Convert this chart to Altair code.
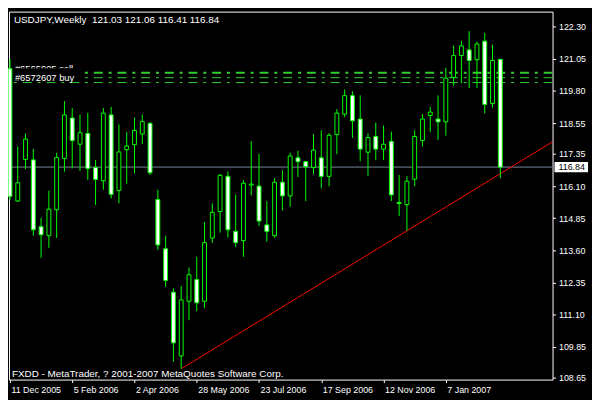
import altair as alt
import pandas as pd

# ---- data (weekly USDJPY candles) ----
opens = [120.67, 115.52, 117.14, 117.12, 114.52, 114.17, 115.18, 117.18, 118.75, 117.73,
         118.15, 116.82, 116.31, 118.87, 115.93, 117.52, 117.71, 118.13, 118.54, 115.58,
         113.66, 111.97, 109.49, 111.62, 112.46, 111.62, 114.08, 115.11, 116.48, 114.34,
         113.98, 116.14, 116.10, 114.59, 114.17, 116.25, 115.72, 117.20, 117.05, 116.82,
         117.20, 116.48, 118.11, 118.90, 119.62, 118.71, 117.42, 118.03, 117.54, 117.84,
         115.46, 115.38, 116.37, 117.88, 118.85, 118.71, 118.60, 120.33, 121.18, 121.40,
         121.02, 121.74, 119.32, 121.03]
highs = [121.05, 117.64, 118.15, 117.55, 114.86, 115.92, 117.40, 119.41, 119.14, 118.88,
         118.95, 117.12, 119.14, 119.18, 118.50, 118.20, 118.77, 118.88, 118.59, 115.96,
         114.17, 112.12, 112.21, 112.93, 113.35, 114.71, 115.43, 116.57, 116.67, 115.77,
         116.34, 117.85, 117.36, 115.51, 116.42, 116.72, 117.40, 117.48, 117.08, 118.12,
         118.27, 118.16, 119.10, 119.86, 119.79, 119.63, 118.16, 118.57, 118.46, 118.22,
         116.53, 116.49, 118.27, 118.90, 119.18, 119.63, 120.70, 121.57, 121.76, 122.13,
         121.72, 122.06, 121.60, 121.06]
lows = [115.56, 115.49, 116.76, 114.17, 113.31, 113.70, 114.08, 116.66, 116.79, 116.69,
        116.34, 115.37, 115.96, 115.62, 115.43, 116.19, 116.60, 117.74, 116.53, 113.62,
        112.18, 109.27, 108.99, 110.88, 111.24, 111.35, 113.89, 114.29, 114.10, 113.73,
        113.35, 115.74, 114.55, 113.94, 114.09, 115.15, 115.30, 116.46, 115.52, 116.56,
        116.01, 116.09, 117.34, 118.78, 117.98, 117.07, 116.50, 117.11, 117.11, 115.52,
        114.93, 114.36, 116.09, 117.64, 118.20, 117.90, 118.06, 120.00, 120.10, 119.91,
        119.91, 118.93, 119.15, 116.41]
closes = [115.70, 116.23, 117.93, 114.40, 114.21, 115.20, 117.21, 118.87, 117.87, 118.18,
          116.79, 116.36, 118.94, 115.78, 117.43, 117.66, 118.27, 118.61, 116.62, 113.81,
          112.43, 110.00, 111.67, 112.65, 111.56, 113.90, 115.08, 116.52, 114.40, 113.90,
          116.21, 116.18, 114.74, 114.34, 116.25, 115.72, 117.27, 117.05, 116.85, 117.50,
          116.48, 118.08, 118.94, 119.62, 118.64, 117.54, 117.99, 117.54, 117.73, 115.76,
          115.42, 116.29, 118.03, 118.71, 118.98, 118.60, 120.30, 121.18, 121.56, 120.99,
          121.63, 119.28, 120.99, 116.84]

x_labels = ["11 Dec 2005", "5 Feb 2006", "2 Apr 2006", "28 May 2006",
            "23 Jul 2006", "17 Sep 2006", "12 Nov 2006", "7 Jan 2007"]
label_step = 8
y_ticks = [122.30, 121.05, 119.80, 118.55, 117.35, 116.10, 114.85,
           113.60, 112.35, 111.10, 109.85, 108.65]

current_price = [116.84]
order_prices = [120.51, 120.32, 120.13]
order_names = ["#6565905 sell", "#6572607 buy"]

trend_bars = [22, 70]
trend_prices = [108.99, 117.88]

symbol = "USDJPY,Weekly"
footer = "FXDD - MetaTrader, ? 2001-2007 MetaQuotes Software Corp."

# ---- styling ----
W, H = 551, 373
FONT = "Liberation Sans, Arial, sans-serif"
FS_AX = 9
FS_TXT = 9.5
GREEN = "#00ff00"
DASHGREEN = "#32cd32"

df = pd.DataFrame({"bar": list(range(len(opens))), "open": opens, "high": highs,
                   "low": lows, "close": closes})

xs = alt.Scale(domain=[-0.125, 69.71], nice=False, zero=False)
ys = alt.Scale(domain=[108.57, 122.89], nice=False, zero=False)

label_expr = "[" + ",".join("'%s'" % s for s in x_labels) + "][round(datum.value/%d)]" % label_step
x_axis = alt.Axis(values=[label_step * k for k in range(len(x_labels))], labelExpr=label_expr,
                  orient="bottom", labelAlign="left", labelBaseline="top", grid=False, domain=False,
                  tickColor="white", tickSize=3, labelColor="white", labelFont=FONT,
                  labelFontSize=FS_AX, labelPadding=3, labelOffset=1, title=None,
                  labelOverlap=False, labelBound=False, labelFlush=False)
y_axis = alt.Axis(values=y_ticks, format=".2f", orient="right", grid=False, domain=False,
                  tickColor="white", tickSize=3, labelColor="white", labelFont=FONT,
                  labelFontSize=FS_AX, labelPadding=3, title=None, labelOverlap=False,
                  labelBound=False, labelFlush=False)


def X(f):
    return alt.X(f, type="quantitative", scale=xs, axis=x_axis)


def Y(f):
    return alt.Y(f, type="quantitative", scale=ys, axis=y_axis)


base = alt.Chart(df)

price_df = pd.DataFrame({"price": current_price})
price_line = alt.Chart(price_df).mark_rule(color="#778899", strokeWidth=1).encode(y=Y("price"))

lvl = pd.DataFrame({"price": order_prices, "k": list(range(len(order_prices)))})
dash_thick = alt.Chart(lvl).transform_filter("datum.k == 0").mark_rule(
    color=DASHGREEN, strokeWidth=2, strokeDash=[9, 6, 3, 6]).encode(y=Y("price"))
dash_thin = alt.Chart(lvl).transform_filter("datum.k > 0").mark_rule(
    color=DASHGREEN, strokeWidth=1, strokeDash=[9, 6, 3, 6]).encode(y=Y("price"))

trend_df = pd.DataFrame({"bar": trend_bars, "price": trend_prices})
trend = alt.Chart(trend_df).mark_line(color="#ff0000", strokeWidth=1, clip=True).encode(
    x=X("bar"), y=Y("price"))

wicks = base.mark_rule(color=GREEN, strokeWidth=1).encode(x=X("bar"), y=Y("low"), y2="high")
bodies = base.transform_calculate(x0="datum.bar - 0.25", x1="datum.bar + 0.25").mark_rect(
    stroke=GREEN, strokeWidth=1).encode(
    x=X("x0"), x2="x1", y=Y("open"), y2="close",
    fill=alt.condition("datum.close >= datum.open", alt.value("black"), alt.value("white")))

# price label box on the right axis
box = alt.Chart(price_df).transform_calculate(p0="datum.price + 0.2", p1="datum.price - 0.2").mark_rect(
    fill="white").encode(x=alt.value(W + 2), x2=alt.value(W + 36), y=Y("p0"), y2="p1")
box_text = alt.Chart(price_df).mark_text(color="black", font=FONT, fontSize=FS_AX, align="left",
                                         baseline="middle").encode(
    x=alt.value(W + 6), y=Y("price"), text=alt.Text("price:Q", format=".2f"))

# order line descriptions
sell_text = alt.Chart(pd.DataFrame({"t": [order_names[0]]})).mark_text(
    color="white", font=FONT, fontSize=FS_TXT, align="left", baseline="alphabetic").encode(
    x=alt.value(6), y=alt.value(61.5), text="t:N")
cover = alt.Chart(pd.DataFrame({"t": [0]})).mark_rect(fill="black").encode(
    x=alt.value(4), x2=alt.value(73), y=alt.value(57.5), y2=alt.value(71))
buy_text = alt.Chart(pd.DataFrame({"t": [order_names[1]]})).mark_text(
    color="white", font=FONT, fontSize=FS_TXT, align="left", baseline="alphabetic").encode(
    x=alt.value(6), y=alt.value(70.5), text="t:N")

title_str = "%s\u00a0 %.2f %.2f %.2f %.2f" % (symbol, opens[-1], highs[-1], lows[-1], closes[-1])
title = alt.Chart(pd.DataFrame({"t": [title_str]})).mark_text(
    color="white", font=FONT, fontSize=10, align="left", baseline="alphabetic").encode(
    x=alt.value(5), y=alt.value(12), text="t:N")
foot = alt.Chart(pd.DataFrame({"t": [footer]})).mark_text(
    color="white", font=FONT, fontSize=10, align="left", baseline="alphabetic").encode(
    x=alt.value(3), y=alt.value(H - 3), text="t:N")

chart = alt.layer(price_line, dash_thick, dash_thin, trend, wicks, bodies,
                  sell_text, cover, buy_text, title, foot, box, box_text).properties(
    width=W, height=H,
    padding={"left": 1, "top": 1, "right": 40, "bottom": 18},
    autosize=alt.AutoSizeParams(type="none"),
    background="black",
).configure_view(stroke="white", strokeWidth=1)

chart.save("out.html", embed_options={"renderer": "svg", "actions": False})
